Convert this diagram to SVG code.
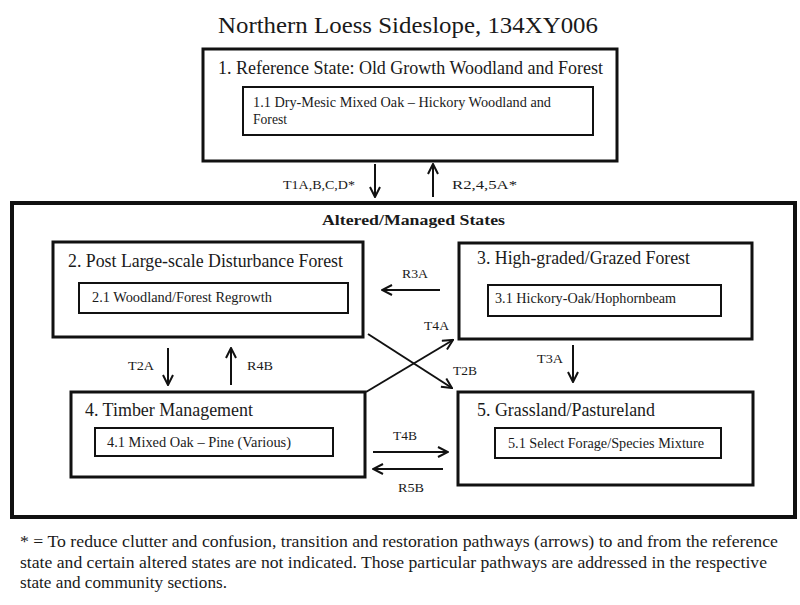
<svg xmlns="http://www.w3.org/2000/svg" width="800" height="605" viewBox="0 0 800 605">
<style>
text{font-family:"Liberation Serif","Times New Roman",serif;fill:#1a1a1a}
.t{font-size:23px}
.st{font-size:18px}
.cm{font-size:14px}
.lb{font-size:13px}
.bd{font-size:15px;font-weight:bold}
.fn{font-size:17px}
.box{fill:#fff;stroke:#111;stroke-width:3}
.in{fill:#fff;stroke:#111;stroke-width:2}
.outer{fill:none;stroke:#111;stroke-width:4}
.ar{fill:none;stroke:#111;stroke-width:2;marker-end:url(#ah)}
</style>
<defs>
<marker id="ah" viewBox="0 0 12 12" refX="11" refY="6" markerWidth="12" markerHeight="12" markerUnits="userSpaceOnUse" orient="auto">
<polyline points="1,1 11,6 1,11" fill="none" stroke="#111" stroke-width="2"/>
</marker>
</defs>
<rect width="800" height="605" fill="#fff"/>
<text class="t" x="218" y="33" textLength="380" lengthAdjust="spacingAndGlyphs">Northern Loess Sideslope, 134XY006</text>
<g id="outer-states">
<rect class="outer" x="12" y="203" width="783" height="314"/>
<text class="bd" x="322" y="225" textLength="183" lengthAdjust="spacingAndGlyphs">Altered/Managed States</text>
</g>
<g id="state1">
<rect class="box" x="203" y="49" width="414" height="112"/>
<text class="st" x="218" y="74" textLength="385" lengthAdjust="spacingAndGlyphs">1. Reference State: Old Growth Woodland and Forest</text>
<rect class="in" x="243" y="87" width="350" height="48"/>
<text class="cm" x="253" y="107" textLength="298" lengthAdjust="spacingAndGlyphs">1.1 Dry-Mesic Mixed Oak – Hickory Woodland and</text>
<text class="cm" x="253" y="124" textLength="34" lengthAdjust="spacingAndGlyphs">Forest</text>
</g>
<g id="state2">
<rect class="box" x="53" y="242" width="310" height="95"/>
<text class="st" x="68" y="267" textLength="275" lengthAdjust="spacingAndGlyphs">2. Post Large-scale Disturbance Forest</text>
<rect class="in" x="79" y="283" width="269" height="30"/>
<text class="cm" x="92" y="302" textLength="180" lengthAdjust="spacingAndGlyphs">2.1 Woodland/Forest Regrowth</text>
</g>
<g id="state3">
<rect class="box" x="459" y="243" width="293" height="96"/>
<text class="st" x="477" y="264" textLength="213" lengthAdjust="spacingAndGlyphs">3. High-graded/Grazed Forest</text>
<rect class="in" x="488" y="285" width="233" height="31"/>
<text class="cm" x="495" y="303" textLength="181" lengthAdjust="spacingAndGlyphs">3.1 Hickory-Oak/Hophornbeam</text>
</g>
<g id="state4">
<rect class="box" x="71" y="392" width="294" height="85"/>
<text class="st" x="85" y="416" textLength="168" lengthAdjust="spacingAndGlyphs">4. Timber Management</text>
<rect class="in" x="95" y="428" width="238" height="28"/>
<text class="cm" x="107" y="447" textLength="184" lengthAdjust="spacingAndGlyphs">4.1 Mixed Oak – Pine (Various)</text>
</g>
<g id="state5">
<rect class="box" x="458" y="392" width="295" height="93"/>
<text class="st" x="477" y="416" textLength="178" lengthAdjust="spacingAndGlyphs">5. Grassland/Pastureland</text>
<rect class="in" x="495" y="428" width="226" height="30"/>
<text class="cm" x="508" y="448" textLength="196" lengthAdjust="spacingAndGlyphs">5.1 Select Forage/Species Mixture</text>
</g>
<g id="connectors">
<line class="ar" x1="375" y1="164" x2="375" y2="197"/>
<line class="ar" x1="433" y1="197" x2="433" y2="164"/>
<line class="ar" x1="168" y1="348" x2="168" y2="385"/>
<line class="ar" x1="231" y1="385" x2="231" y2="348"/>
<line class="ar" x1="440" y1="290" x2="382" y2="290"/>
<line class="ar" x1="573" y1="345" x2="573" y2="382"/>
<line class="ar" x1="368" y1="334" x2="452" y2="388"/>
<line class="ar" x1="366" y1="392" x2="453" y2="340"/>
<line class="ar" x1="373" y1="452" x2="448" y2="452"/>
<line class="ar" x1="443" y1="469" x2="373" y2="469"/>
<text class="lb" x="283" y="189" textLength="72" lengthAdjust="spacingAndGlyphs">T1A,B,C,D*</text>
<text class="lb" x="452" y="189" textLength="65" lengthAdjust="spacingAndGlyphs">R2,4,5A*</text>
<text class="lb" x="128" y="370" textLength="26" lengthAdjust="spacingAndGlyphs">T2A</text>
<text class="lb" x="247" y="370" textLength="26" lengthAdjust="spacingAndGlyphs">R4B</text>
<text class="lb" x="402" y="278" textLength="26" lengthAdjust="spacingAndGlyphs">R3A</text>
<text class="lb" x="424" y="330" textLength="25" lengthAdjust="spacingAndGlyphs">T4A</text>
<text class="lb" x="453" y="375" textLength="24" lengthAdjust="spacingAndGlyphs">T2B</text>
<text class="lb" x="537" y="363" textLength="26" lengthAdjust="spacingAndGlyphs">T3A</text>
<text class="lb" x="393" y="440" textLength="24" lengthAdjust="spacingAndGlyphs">T4B</text>
<text class="lb" x="398" y="492" textLength="26" lengthAdjust="spacingAndGlyphs">R5B</text>
</g>
<g id="footnote">
<text class="fn" x="20" y="547" textLength="758" lengthAdjust="spacingAndGlyphs">* = To reduce clutter and confusion, transition and restoration pathways (arrows) to and from the reference</text>
<text class="fn" x="20" y="568" textLength="747" lengthAdjust="spacingAndGlyphs">state and certain altered states are not indicated. Those particular pathways are addressed in the respective</text>
<text class="fn" x="20" y="588" textLength="207" lengthAdjust="spacingAndGlyphs">state and community sections.</text>
</g>
</svg>
